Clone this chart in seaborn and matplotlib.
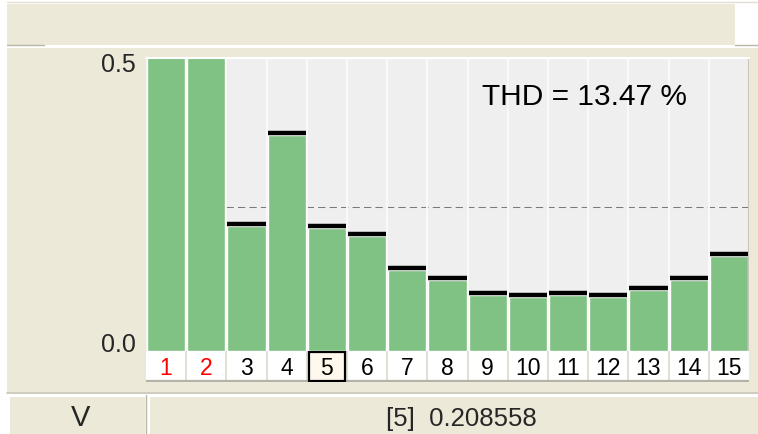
#!/usr/bin/env python3
"""
Harmonic spectrum bar chart (THD view) redrawn with seaborn
"""

import matplotlib
matplotlib.use('Agg')
import matplotlib.pyplot as plt
from matplotlib.patches import Rectangle
from matplotlib.lines import Line2D
import matplotlib.transforms as mtransforms
import seaborn as sns
import pandas as pd

# Data
harmonics = [1, 2, 3, 4, 5, 6, 7, 8, 9, 10, 11, 12, 13, 14, 15]
amplitudes = [1.0, 0.60, 0.212, 0.369, 0.208558, 0.195, 0.137, 0.120,
              0.0955, 0.091, 0.0955, 0.091, 0.1036, 0.120, 0.162]
red_labels = [1, 2]
selected = 5
limit_level = 0.246
y_ticks = [0.0, 0.5]
y_tick_labels = ['0.0', '0.5']
thd_text = 'THD = 13.47 %'
unit_label = 'V'
readout = '[5]  0.208558'

W, H = 758, 435
BEIGE = '#ECE9D8'
GREEN = '#80C283'

sns.set_style('white')
plt.rcParams['font.family'] = ['Liberation Sans', 'DejaVu Sans']

fig = plt.figure(figsize=(W / 100, H / 100), dpi=100, facecolor='white')


def px_box(x0, y0, x1, y1):
    """pixel box (top-left origin) -> figure fraction rect"""
    return [x0 / W, 1 - y1 / H, (x1 - x0) / W, (y1 - y0) / H]


def panel(x0, y0, x1, y1, color=BEIGE):
    l, b, w, h = px_box(x0, y0, x1, y1)
    fig.add_artist(Rectangle((l, b), w, h, transform=fig.transFigure,
                             facecolor=color, edgecolor='none', zorder=0))


def line(x0, y0, x1, y1, color, lw=1.0):
    fig.add_artist(Line2D([x0 / W, x1 / W], [1 - y0 / H, 1 - y1 / H],
                          transform=fig.transFigure, color=color, lw=lw, zorder=0.5))


# window panels
line(7, 3, 758, 3, '#E2DFD2')
panel(7, 5, 735, 46)
line(7, 45.5, 44, 45.5, '#B9B6A6')
line(735, 45.5, 758, 45.5, '#B9B6A6')
panel(7, 49, 758, 393)
line(7, 393.5, 758, 393.5, '#C6C3B4', 1.2)
panel(10, 398, 145, 435)
panel(150, 398, 758, 435)
line(145.5, 396, 145.5, 435, '#B9B6A6')

df = pd.DataFrame({'harmonic': harmonics, 'amplitude': amplitudes})
xpos = list(range(len(harmonics)))

# main bar area
ax = fig.add_axes(px_box(146, 59, 749, 351.5))
ax.set_facecolor('#EFEFEF')
ax.hlines(limit_level, 1.5, len(harmonics) - 0.5, color='#7A7A7A', lw=0.75,
          linestyles=[(0, (7, 4))], zorder=0.4)
ax.vlines([x + 0.5 for x in xpos[:-1]], 0, 0.5, colors='#FAFAF6', lw=1.4, zorder=0.5)
sns.barplot(data=df, x='harmonic', y='amplitude', order=harmonics, color=GREEN,
            saturation=1, width=0.95, ax=ax, zorder=1)
ax.hlines([a + 0.0035 for a in amplitudes], [x - 0.475 for x in xpos],
          [x + 0.475 for x in xpos], colors='black', lw=3.2, zorder=2)
ax.set_xlim(-0.5, len(harmonics) - 0.5)
ax.set_ylim(0, 0.5)
ax.set_xticks([])
ax.set_yticks([])
ax.set_xlabel('')
ax.set_ylabel('')
for s in ax.spines.values():
    s.set_visible(False)
ax.axvline(len(harmonics) - 0.5, color='#C8C6BC', lw=1.5)
ax.axhline(0.5, color='white', lw=1.5, clip_on=False, zorder=3)

# y labels, nudged inside the range like the original widget
ylab_tr = mtransforms.blended_transform_factory(ax.transAxes, ax.transData)
nudges = [6.5, -6.5]
for val, lab, dy in zip(y_ticks, y_tick_labels, nudges):
    off = mtransforms.offset_copy(ylab_tr, fig=fig, x=-10, y=dy, units='dots')
    ax.text(0, val, lab, transform=off, ha='right', va='center', fontsize=18)

ax.text(0.727, 0.87, thd_text, transform=ax.transAxes, ha='center', va='center',
        fontsize=21.5, color='black')

# harmonic number row
axl = fig.add_axes(px_box(146, 351.5, 749, 383))
axl.set_facecolor('white')
axl.set_xlim(-0.5, len(harmonics) - 0.5)
axl.set_ylim(0, 1)
axl.vlines([x + 0.5 for x in xpos[:-1]], 0, 1, colors='#DCDAD0', lw=1.2)
axl.axhline(0.02, color='#B4B2A6', lw=1.6)
for s in axl.spines.values():
    s.set_visible(False)
axl.set_xticks([])
axl.set_yticks([])
for x, h in zip(xpos, harmonics):
    if h == selected:
        axl.add_patch(Rectangle((x - 0.445, 0.04), 0.89, 0.92, facecolor='#FFF8EC',
                                edgecolor='black', lw=1.6, zorder=3))
    axl.text(x, 0.47, str(h), ha='center', va='center', fontsize=16.5, zorder=4,
             color='red' if h in red_labels else 'black')

# status row
fig.text(81 / W, 1 - 418 / H, unit_label, ha='center', va='center', fontsize=21)
fig.text(461 / W, 1 - 419 / H, readout, ha='center', va='center', fontsize=18.5)

fig.savefig('out.png', dpi=100, facecolor='white')
